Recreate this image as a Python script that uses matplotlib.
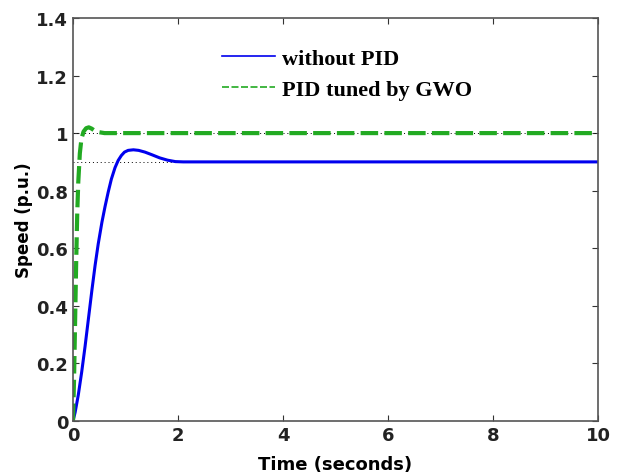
import numpy as np
import matplotlib.pyplot as plt

# step responses
t_no_pid = [0, 0.04, 0.1, 0.165, 0.23, 0.29, 0.36, 0.42, 0.48, 0.55, 0.61, 0.67, 0.73, 0.8, 0.86,
            0.92, 0.98, 1.05, 1.15, 1.25, 1.37, 1.5, 1.65, 1.8, 1.95, 2.1, 10]
v_no_pid = [0, 0.03, 0.09, 0.17, 0.26, 0.35, 0.455, 0.54, 0.615, 0.69, 0.745, 0.795, 0.84, 0.88, 0.905,
            0.922, 0.934, 0.94, 0.942, 0.94, 0.934, 0.925, 0.914, 0.906, 0.901, 0.9, 0.9]

t_gwo = [0, 0.02, 0.04, 0.06, 0.08, 0.1, 0.13, 0.16, 0.2, 0.25, 0.3, 0.35, 0.4, 0.5, 0.6, 0.8, 10]
v_gwo = [0, 0.15, 0.35, 0.55, 0.72, 0.83, 0.93, 0.98, 1.005, 1.017, 1.02, 1.016, 1.01, 1.003, 1.0, 1.0, 1.0]

ref_levels = [1.0, 0.9]

fig = plt.figure(figsize=(6.22, 4.77), dpi=100)
ax = fig.add_axes([0.1174, 0.1153, 0.844, 0.845])

for lv in ref_levels:
    ax.plot([0, 10], [lv, lv], color="black", linestyle=(0, (1, 3)), linewidth=0.7)

ax.plot(t_no_pid, v_no_pid, color="#0000ee", linewidth=2.2, label="without PID")
ax.plot(t_gwo, v_gwo, color="#22aa22", linewidth=3.0, linestyle=(0, (4.2, 1.5)),
        label="PID tuned by GWO")

ax.set_xlim(0, 10)
ax.set_ylim(0, 1.4)
ax.set_xticks([0, 2, 4, 6, 8, 10])
ax.set_yticks([0, 0.2, 0.4, 0.6, 0.8, 1, 1.2, 1.4])
ax.set_yticklabels(["0", "0.2", "0.4", "0.6", "0.8", "1", "1.2", "1.4"])
ax.tick_params(direction="in", top=True, right=True, length=4, labelsize=13, color="#333333")
for lab in ax.get_xticklabels() + ax.get_yticklabels():
    lab.set_fontweight("bold")
    lab.set_color("#222222")
for sp in ax.spines.values():
    sp.set_color("#555555")
    sp.set_linewidth(1.2)

ax.set_xlabel("Time (seconds)", fontsize=13, fontweight="bold", labelpad=8)
ax.set_ylabel("Speed (p.u.)", fontsize=12, fontweight="bold", labelpad=2)

leg = ax.legend(loc="upper left", bbox_to_anchor=(0.245, 0.975), frameon=False,
                prop={"family": "Liberation Serif", "weight": "bold", "size": 16},
                handlelength=2.4, handletextpad=0.3, labelspacing=0.5)
leg.get_lines()[0].set_linewidth(1.2)
leg.get_lines()[1].set_linewidth(1.2)

fig.savefig("out.png", dpi=100)
